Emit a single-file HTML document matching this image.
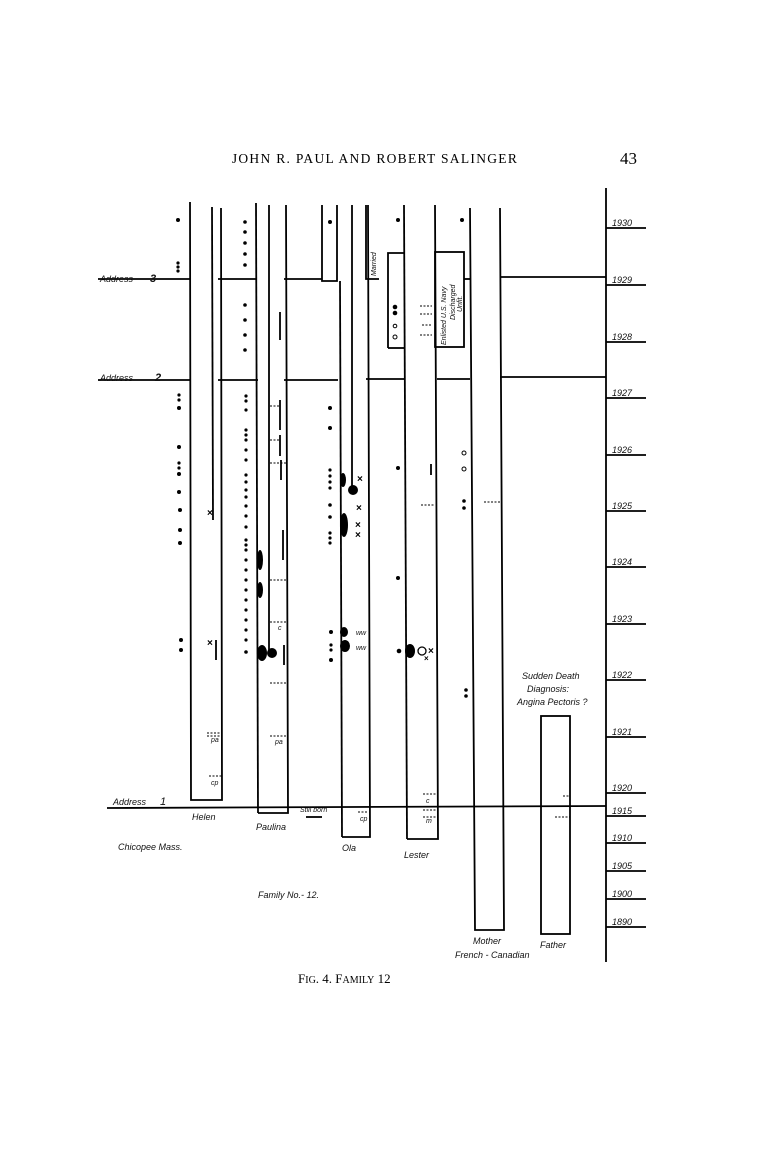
<!DOCTYPE html>
<html><head><meta charset="utf-8"><style>
html,body{margin:0;padding:0;background:#fff;}
svg{display:block;}
.h{font-family:"Liberation Serif",serif;}
.w{font-family:"Liberation Sans",sans-serif;font-style:italic;font-size:9px;fill:#111;}
</style></head><body>
<svg width="757" height="1163" viewBox="0 0 757 1163" xmlns="http://www.w3.org/2000/svg">
<rect width="757" height="1163" fill="#fff"/>
<text class="h" x="375" y="163" font-size="13.5" text-anchor="middle" letter-spacing="1.3">JOHN R. PAUL AND ROBERT SALINGER</text>
<text class="h" x="620" y="164" font-size="17">43</text>
<text class="h" x="298" y="983" font-size="13">F<tspan font-size="10">IG</tspan>. 4. F<tspan font-size="10">AMILY</tspan> 12</text>

<g stroke="#000" stroke-width="1.8" fill="none">
<line x1="606" y1="188" x2="606" y2="962"/>
<line x1="98" y1="279" x2="190" y2="279"/>
<line x1="218" y1="279" x2="256" y2="279"/>
<line x1="284" y1="279" x2="322" y2="279"/>
<line x1="500" y1="277" x2="606" y2="277"/>
<line x1="98" y1="380" x2="190" y2="380"/>
<line x1="218" y1="380" x2="258" y2="380"/>
<line x1="284" y1="380" x2="338" y2="380"/>
<line x1="366" y1="379" x2="404" y2="379"/>
<line x1="437" y1="379" x2="470" y2="379"/>
<line x1="500" y1="377" x2="606" y2="377"/>
<line x1="107" y1="808" x2="606" y2="806"/>
<polyline points="190,202 191,800 222,800 221,208"/>
<line x1="212" y1="207" x2="213" y2="520"/>
<line x1="256" y1="203" x2="258" y2="813"/>
<polyline points="258,813 288,813 286,205"/>
<line x1="269" y1="205" x2="269" y2="652"/>
<polyline points="322,205 322,281 337,281 337,205"/>
<line x1="340" y1="281" x2="342" y2="837"/>
<polyline points="342,837 370,837 368,205"/>
<line x1="352" y1="205" x2="352" y2="490"/>
<polyline points="366,205 366,279 379,279"/>
<polyline points="388,348 388,253 404,253"/>
<line x1="388" y1="348" x2="404" y2="348"/>
<line x1="404" y1="205" x2="407" y2="839"/>
<polyline points="407,839 438,839 435,205"/>
<rect x="435" y="252" width="29" height="95"/>
<line x1="464" y1="279" x2="470" y2="279"/>
<polyline points="470,208 475,930 504,930 500,208"/>
<rect x="541" y="716" width="29" height="218"/>
<line x1="606" y1="228" x2="646" y2="228"/>
<line x1="606" y1="285" x2="646" y2="285"/>
<line x1="606" y1="342" x2="646" y2="342"/>
<line x1="606" y1="398" x2="646" y2="398"/>
<line x1="606" y1="455" x2="646" y2="455"/>
<line x1="606" y1="511" x2="646" y2="511"/>
<line x1="606" y1="567" x2="646" y2="567"/>
<line x1="606" y1="624" x2="646" y2="624"/>
<line x1="606" y1="680" x2="646" y2="680"/>
<line x1="606" y1="737" x2="646" y2="737"/>
<line x1="606" y1="793" x2="646" y2="793"/>
<line x1="606" y1="816" x2="646" y2="816"/>
<line x1="606" y1="843" x2="646" y2="843"/>
<line x1="606" y1="871" x2="646" y2="871"/>
<line x1="606" y1="899" x2="646" y2="899"/>
<line x1="606" y1="927" x2="646" y2="927"/>
<line x1="216" y1="640" x2="216" y2="660"/>
<line x1="280" y1="312" x2="280" y2="340"/>
<line x1="280" y1="400" x2="280" y2="430"/>
<line x1="280" y1="435" x2="280" y2="456"/>
<line x1="281" y1="460" x2="281" y2="480"/>
<line x1="283" y1="530" x2="283" y2="560"/>
<line x1="284" y1="645" x2="284" y2="665"/>
<line x1="431" y1="464" x2="431" y2="475"/>
<line x1="306" y1="817" x2="322" y2="817"/>
</g>
<g stroke="#000" stroke-width="1" stroke-dasharray="2,1.5" fill="none">
<line x1="207" y1="733" x2="222" y2="733"/><line x1="207" y1="736" x2="222" y2="736"/>
<line x1="209" y1="776" x2="222" y2="776"/>
<line x1="270" y1="580" x2="286" y2="580"/><line x1="270" y1="622" x2="286" y2="622"/>
<line x1="270" y1="683" x2="286" y2="683"/><line x1="270" y1="736" x2="286" y2="736"/>
<line x1="270" y1="406" x2="280" y2="406"/><line x1="270" y1="440" x2="280" y2="440"/><line x1="270" y1="463" x2="286" y2="463"/>
<line x1="358" y1="812" x2="368" y2="812"/>
<line x1="420" y1="306" x2="432" y2="306"/><line x1="420" y1="314" x2="432" y2="314"/><line x1="422" y1="325" x2="432" y2="325"/><line x1="420" y1="335" x2="432" y2="335"/>
<line x1="421" y1="505" x2="434" y2="505"/>
<line x1="484" y1="502" x2="500" y2="502"/>
<line x1="423" y1="794" x2="436" y2="794"/><line x1="423" y1="810" x2="436" y2="810"/><line x1="423" y1="817" x2="436" y2="817"/>
<line x1="555" y1="817" x2="570" y2="817"/><line x1="563" y1="796" x2="570" y2="796"/>
</g>
<g fill="#000">
<circle cx="178" cy="220" r="2"/><circle cx="178" cy="263" r="1.6"/><circle cx="178" cy="267" r="1.6"/><circle cx="178" cy="271" r="1.6"/>
<circle cx="179" cy="395" r="1.6"/><circle cx="179" cy="400" r="1.6"/><circle cx="179" cy="408" r="2"/><circle cx="179" cy="447" r="2"/>
<circle cx="179" cy="463" r="1.6"/><circle cx="179" cy="468" r="1.6"/><circle cx="179" cy="474" r="2"/><circle cx="179" cy="492" r="2"/>
<circle cx="180" cy="510" r="2"/><circle cx="180" cy="530" r="2"/><circle cx="180" cy="543" r="2"/><circle cx="181" cy="640" r="2"/><circle cx="181" cy="650" r="2"/>
<circle cx="245" cy="222" r="1.8"/><circle cx="245" cy="232" r="1.8"/><circle cx="245" cy="243" r="1.8"/><circle cx="245" cy="254" r="1.8"/><circle cx="245" cy="265" r="1.8"/>
<circle cx="245" cy="305" r="1.8"/><circle cx="245" cy="320" r="1.8"/><circle cx="245" cy="335" r="1.8"/><circle cx="245" cy="350" r="1.8"/>
<circle cx="246" cy="396" r="1.6"/><circle cx="246" cy="401" r="1.6"/><circle cx="246" cy="410" r="1.6"/><circle cx="246" cy="430" r="1.6"/><circle cx="246" cy="435" r="1.6"/><circle cx="246" cy="440" r="1.6"/>
<circle cx="246" cy="450" r="1.6"/><circle cx="246" cy="460" r="1.6"/><circle cx="246" cy="475" r="1.6"/><circle cx="246" cy="482" r="1.6"/><circle cx="246" cy="490" r="1.6"/><circle cx="246" cy="497" r="1.6"/>
<circle cx="246" cy="506" r="1.6"/><circle cx="246" cy="516" r="1.6"/><circle cx="246" cy="527" r="1.6"/><circle cx="246" cy="540" r="1.6"/><circle cx="246" cy="545" r="1.6"/><circle cx="246" cy="550" r="1.6"/>
<circle cx="246" cy="560" r="1.6"/><circle cx="246" cy="570" r="1.6"/><circle cx="246" cy="580" r="1.6"/><circle cx="246" cy="590" r="1.6"/><circle cx="246" cy="600" r="1.6"/><circle cx="246" cy="610" r="1.6"/>
<circle cx="246" cy="620" r="1.6"/><circle cx="246" cy="630" r="1.6"/><circle cx="246" cy="640" r="1.6"/><circle cx="246" cy="652" r="1.8"/>
<ellipse cx="262" cy="653" rx="5" ry="8"/><circle cx="272" cy="653" r="5"/>
<ellipse cx="260" cy="560" rx="3" ry="10"/><ellipse cx="260" cy="590" rx="3" ry="8"/>
<circle cx="330" cy="222" r="2"/><circle cx="330" cy="408" r="2"/><circle cx="330" cy="428" r="2"/>
<circle cx="330" cy="470" r="1.6"/><circle cx="330" cy="476" r="1.6"/><circle cx="330" cy="482" r="1.6"/><circle cx="330" cy="488" r="1.6"/>
<circle cx="330" cy="505" r="1.8"/><circle cx="330" cy="517" r="1.8"/><circle cx="330" cy="533" r="1.6"/><circle cx="330" cy="538" r="1.6"/><circle cx="330" cy="543" r="1.6"/>
<circle cx="331" cy="632" r="2"/><circle cx="331" cy="645" r="1.6"/><circle cx="331" cy="650" r="1.6"/><circle cx="331" cy="660" r="2"/>
<circle cx="353" cy="490" r="5"/>
<ellipse cx="343" cy="480" rx="3" ry="7"/><ellipse cx="344" cy="525" rx="4" ry="12"/>
<ellipse cx="344" cy="632" rx="4" ry="5"/><ellipse cx="345" cy="646" rx="5" ry="6"/>
<circle cx="398" cy="220" r="2"/><circle cx="398" cy="468" r="2"/><circle cx="398" cy="578" r="2"/><circle cx="399" cy="651" r="2.3"/>
<ellipse cx="410" cy="651" rx="5" ry="7"/>
<circle cx="395" cy="307" r="2.3"/><circle cx="395" cy="313" r="2.3"/><circle cx="395" cy="326" r="1.8" fill="none" stroke="#000"/><circle cx="395" cy="337" r="2" fill="none" stroke="#000"/>
<circle cx="462" cy="220" r="2"/><circle cx="464" cy="501" r="1.8"/><circle cx="464" cy="508" r="1.8"/>
<circle cx="466" cy="690" r="1.8"/><circle cx="466" cy="696" r="1.8"/>
<circle cx="464" cy="453" r="2" fill="none" stroke="#000"/><circle cx="464" cy="469" r="2" fill="none" stroke="#000"/>
<circle cx="422" cy="651" r="4" fill="none" stroke="#000" stroke-width="1.3"/>
</g>
<g font-family="Liberation Sans,sans-serif" font-size="10" font-weight="bold" fill="#000">
<text x="207" y="516">×</text><text x="207" y="646">×</text>
<text x="357" y="482">×</text><text x="356" y="511">×</text><text x="355" y="528">×</text><text x="355" y="538">×</text>
<text x="428" y="654">×</text><text x="424" y="661" font-size="8">×</text>
</g>
<g class="w">
<text x="100" y="282">Address</text><text x="150" y="282" font-size="11" font-weight="bold">3</text>
<text x="100" y="381">Address</text><text x="155" y="381" font-size="11" font-weight="bold">2</text>
<text x="113" y="805">Address</text><text x="160" y="805" font-size="11">1</text>
<text x="192" y="820">Helen</text>
<text x="256" y="830">Paulina</text>
<text x="300" y="812" font-size="7">Still born</text>
<text x="342" y="851">Ola</text>
<text x="404" y="858">Lester</text>
<text x="118" y="850">Chicopee  Mass.</text>
<text x="258" y="898">Family  No.- 12.</text>
<text x="473" y="944">Mother</text>
<text x="455" y="958">French - Canadian</text>
<text x="540" y="948">Father</text>
<text x="522" y="679">Sudden Death</text>
<text x="527" y="692">Diagnosis:</text>
<text x="517" y="705">Angina Pectoris ?</text>
<text x="211" y="742" font-size="7">pa</text><text x="275" y="744" font-size="7">pa</text>
<text x="211" y="785" font-size="7">cp</text><text x="360" y="821" font-size="7">cp</text>
<text x="278" y="630" font-size="7">c</text>
<text x="356" y="635" font-size="7">ww</text><text x="356" y="650" font-size="7">ww</text>
<text x="426" y="803" font-size="7">c</text><text x="426" y="823" font-size="7">m</text>
<text transform="translate(376,276) rotate(-90)" font-size="7">Married</text>
<text transform="translate(446,345) rotate(-90)" font-size="7">Enlisted U.S. Navy</text>
<text transform="translate(455,320) rotate(-90)" font-size="7">Discharged</text>
<text transform="translate(462,312) rotate(-90)" font-size="7">Unfit.</text>
<g font-size="9">
<text x="612" y="226">1930</text><text x="612" y="283">1929</text><text x="612" y="340">1928</text><text x="612" y="396">1927</text>
<text x="612" y="453">1926</text><text x="612" y="509">1925</text><text x="612" y="565">1924</text><text x="612" y="622">1923</text>
<text x="612" y="678">1922</text><text x="612" y="735">1921</text><text x="612" y="791">1920</text><text x="612" y="814">1915</text>
<text x="612" y="841">1910</text><text x="612" y="869">1905</text><text x="612" y="897">1900</text><text x="612" y="925">1890</text>
</g>
</g>
</svg>
</body></html>
